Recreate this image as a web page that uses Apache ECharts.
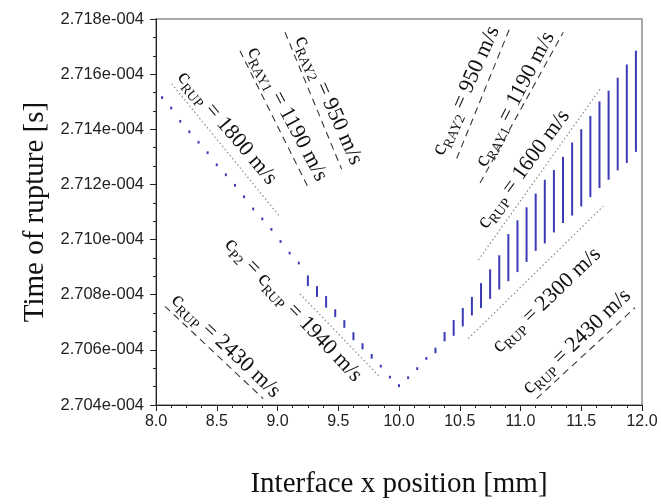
<!DOCTYPE html>
<html>
<head>
<meta charset="utf-8">
<script src="https://cdn.jsdelivr.net/npm/echarts@6/dist/echarts.min.js"></script>
<style>html,body{margin:0;padding:0;background:#fff}#c{width:661px;height:504px}</style>
</head>
<body>
<div id="c"></div>
<script>
// Interface x position [mm]
const xPos = [8.050, 8.125, 8.200, 8.275, 8.350, 8.425, 8.500, 8.575, 8.650, 8.725, 8.800, 8.875, 8.950,
  9.025, 9.100, 9.175, 9.250, 9.325, 9.400, 9.475, 9.550, 9.625, 9.700, 9.775, 9.850, 9.925, 10.000,
  10.075, 10.150, 10.225, 10.300, 10.375, 10.450, 10.525, 10.600, 10.675, 10.750, 10.825, 10.900, 10.975,
  11.050, 11.125, 11.200, 11.275, 11.350, 11.425, 11.500, 11.575, 11.650, 11.725, 11.800, 11.875, 11.950];
// Time of rupture, lowest and highest value at each position (units of 1e-4 s)
const tLow = [2.71510, 2.71472, 2.71424, 2.71386, 2.71348, 2.71310, 2.71266, 2.71230, 2.71192, 2.71150, 2.71106, 2.71070, 2.71032,
  2.70988, 2.70946, 2.70910, 2.70831, 2.70792, 2.70753, 2.70719, 2.70680, 2.70635, 2.70602, 2.70568, 2.70536, 2.70496, 2.70465,
  2.70494, 2.70527, 2.70564, 2.70588, 2.70631, 2.70651, 2.70685, 2.70725, 2.70752, 2.70785, 2.70819, 2.70849, 2.70882,
  2.70919, 2.70959, 2.70986, 2.71026, 2.71060, 2.71087, 2.71120, 2.71154, 2.71187, 2.71217, 2.71251, 2.71278, 2.71318];
const tHigh = [2.71520, 2.71482, 2.71434, 2.71396, 2.71358, 2.71320, 2.71276, 2.71240, 2.71202, 2.71160, 2.71116, 2.71080, 2.71042,
  2.70998, 2.70956, 2.70920, 2.70870, 2.70831, 2.70795, 2.70747, 2.70708, 2.70664, 2.70624, 2.70585, 2.70546, 2.70506, 2.70475,
  2.70504, 2.70537, 2.70574, 2.70608, 2.70665, 2.70708, 2.70752, 2.70792, 2.70842, 2.70892, 2.70943, 2.71020, 2.71070,
  2.71117, 2.71167, 2.71217, 2.71252, 2.71300, 2.71352, 2.71400, 2.71448, 2.71501, 2.71540, 2.71587, 2.71635, 2.71685];

// Reference velocity lines (endpoints in data units)
const refX1 = [8.129, 8.691, 9.062, 9.185, 8.074, 10.475, 10.667, 10.653, 10.570, 11.133];
const refT1 = [2.71565, 2.71685, 2.71752, 2.70803, 2.70758, 2.71294, 2.71205, 2.70926, 2.70641, 2.70423];
const refX2 = [9.021, 9.253, 9.528, 9.844, 8.883, 10.914, 11.352, 11.654, 11.681, 11.942];
const refT2 = [2.71082, 2.71188, 2.71255, 2.70501, 2.70423, 2.71769, 2.71752, 2.71545, 2.71121, 2.70753];
const refKind = ['dotted', 'dashed', 'dashed', 'dotted', 'dashed', 'dashed', 'dashed', 'dotted', 'dotted', 'dashed'];

// Annotations
const labelParts = [
  [['c', 'RUP'], [' = 1800 m/s']],
  [['c', 'RAY1'], [' = 1190 m/s']],
  [['c', 'RAY2'], [' = 950 m/s']],
  [['c', 'P2'], [' = '], ['c', 'RUP'], [' = 1940 m/s']],
  [['c', 'RUP'], [' = 2430 m/s']],
  [['c', 'RAY2'], [' = 950 m/s']],
  [['c', 'RAY1'], [' = 1190 m/s']],
  [['c', 'RUP'], [' = 1600 m/s']],
  [['c', 'RUP'], [' = 2300 m/s']],
  [['c', 'RUP'], [' = 2430 m/s']]
];
const labelX = [8.585, 9.080, 9.420, 9.130, 8.575, 10.550, 10.955, 11.025, 11.215, 11.462];
const labelT = [2.71405, 2.71455, 2.71505, 2.70745, 2.70615, 2.71540, 2.71509, 2.71255, 2.70780, 2.70630];
const labelAngle = [-49.7, -62, -66, -46.6, -43.5, 66, 62.5, 53.7, 43.8, 43.8];

const xTicks = ['8.0', '8.5', '9.0', '9.5', '10.0', '10.5', '11.0', '11.5', '12.0'];

const chart = echarts.init(document.getElementById('c'), null, {renderer: 'canvas'});

const segData = xPos.map((x, i) => [x, tLow[i], tHigh[i]]);
const refSeries = refX1.map((x, i) => ({
  type: 'line', silent: true, symbol: 'none', animation: false, z: 1,
  data: [[x, refT1[i]], [refX2[i], refT2[i]]],
  lineStyle: refKind[i] === 'dashed'
    ? {color: '#353535', width: 1.1, type: [7, 5]}
    : {color: '#8a8a8a', width: 1.2, type: [1.5, 2.5]}
}));

const serif = '"Liberation Serif", "Times New Roman", serif';
const sans = '"Liberation Sans", Arial, sans-serif';

chart.setOption({
  animation: false,
  backgroundColor: '#ffffff',
  grid: {left: 156, right: 19, top: 19, bottom: 89, show: true, borderColor: '#8c8c8c', borderWidth: 1.5, backgroundColor: 'transparent'},
  xAxis: {
    type: 'value', min: 8, max: 12, interval: 0.5,
    name: 'Interface x position [mm]', nameLocation: 'middle', nameGap: 65,
    nameTextStyle: {fontFamily: serif, fontSize: 29, color: '#111'},
    axisLine: {show: true, onZero: false, lineStyle: {color: '#222', width: 1}},
    axisTick: {show: true, inside: false, length: 6, lineStyle: {color: '#222'}},
    minorTick: {show: true, splitNumber: 4, length: 3, lineStyle: {color: '#222'}},
    splitLine: {show: false},
    axisLabel: {fontFamily: sans, fontSize: 16, color: '#222', margin: 9,
      formatter: v => xTicks[Math.round((v - 8) / 0.5)] }
  },
  yAxis: {
    type: 'value', min: 2.704, max: 2.718, interval: 0.002,
    name: 'Time of rupture [s]', nameLocation: 'middle', nameGap: 104,
    nameTextStyle: {fontFamily: serif, fontSize: 29, color: '#111'},
    axisLine: {show: true, onZero: false, lineStyle: {color: '#222', width: 1}},
    axisTick: {show: true, inside: false, length: 6, lineStyle: {color: '#222'}},
    minorTick: {show: true, splitNumber: 3, length: 3, lineStyle: {color: '#222'}},
    splitLine: {show: false},
    axisLabel: {fontFamily: sans, fontSize: 16.5, color: '#222', margin: 12,
      formatter: v => v.toFixed(3) + 'e-004'}
  },
  series: refSeries.concat([{
    type: 'custom', silent: true, z: 3,
    data: segData,
    encode: {x: 0, y: [1, 2]},
    renderItem: function (params, api) {
      const p1 = api.coord([api.value(0), api.value(1)]);
      const p2 = api.coord([api.value(0), api.value(2)]);
      return {type: 'line', shape: {x1: p1[0], y1: p1[1], x2: p2[0], y2: p2[1]},
        style: {stroke: '#3b3bb8', lineWidth: 2}};
    }
  }])
});

function richText(parts) {
  return parts.map(p => p.length === 2 ? '{m|' + p[0] + '}{s|' + p[1] + '}' : '{m|' + p[0] + '}').join('');
}
const graphics = labelX.map((x, i) => {
  const px = chart.convertToPixel({gridIndex: 0}, [x, labelT[i]]);
  return {
    type: 'text', x: px[0], y: px[1], rotation: labelAngle[i] * Math.PI / 180, silent: true, z: 10,
    style: {
      text: richText(labelParts[i]), align: 'center', verticalAlign: 'middle',
      fill: '#111', fontFamily: serif, fontSize: 22,
      rich: {
        m: {fontFamily: serif, fontSize: 22, fill: '#111', color: '#111'},
        s: {fontFamily: serif, fontSize: 14, fill: '#111', color: '#111', padding: [13, 0, 0, 0]}
      }
    }
  };
});
chart.setOption({graphic: graphics});
</script>
</body>
</html>
